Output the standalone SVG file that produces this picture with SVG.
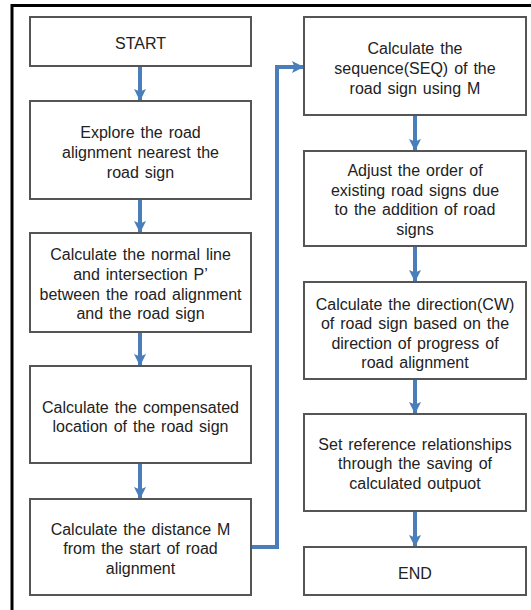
<svg xmlns="http://www.w3.org/2000/svg" width="531" height="610" viewBox="0 0 531 610">
  <style>
    .box { fill: #ffffff; stroke: #555555; stroke-width: 2; }
    .lbl { font-family: "Liberation Sans", Arial, sans-serif; font-size: 16px; word-spacing: 1.5px; fill: #222222; text-anchor: middle; }
    .flow { fill: none; stroke: #4a7ebb; stroke-width: 4; }
    .frame { fill: none; stroke: #000000; stroke-width: 3; }
  </style>
  <defs>
    <marker id="arrow" viewBox="0 0 12 12" refX="11" refY="6" markerWidth="12" markerHeight="12" markerUnits="userSpaceOnUse" orient="auto">
      <path d="M0,0 L12,6 L0,12 L2.5,6 Z" fill="#4a7ebb"/>
    </marker>
  </defs>
  <rect width="531" height="610" fill="#ffffff"/>
  <!-- outer frame: top and left edges only -->
  <path class="frame" d="M12,610 L12,5.5 L531,5.5"/>

  <g id="connectors">
    <path class="flow" d="M140,66 L140,100" marker-end="url(#arrow)"/>
    <path class="flow" d="M140,199 L140,232" marker-end="url(#arrow)"/>
    <path class="flow" d="M140,332 L140,365" marker-end="url(#arrow)"/>
    <path class="flow" d="M140,463 L140,498" marker-end="url(#arrow)"/>
    <path class="flow" d="M251,547 L277,547 L277,67 L303,67" marker-end="url(#arrow)"/>
    <path class="flow" d="M415,115 L415,150" marker-end="url(#arrow)"/>
    <path class="flow" d="M415,246 L415,281" marker-end="url(#arrow)"/>
    <path class="flow" d="M415,379 L415,413" marker-end="url(#arrow)"/>
    <path class="flow" d="M415,511 L415,546" marker-end="url(#arrow)"/>
  </g>

  <g id="start">
    <rect class="box" x="30" y="17" width="221" height="49"/>
    <text class="lbl" x="140.5" y="49">START</text>
  </g>
  <g id="explore">
    <rect class="box" x="30" y="101" width="221" height="98"/>
    <text class="lbl" x="140.5" y="138">Explore the road</text>
    <text class="lbl" x="140.5" y="158">alignment nearest the</text>
    <text class="lbl" x="140.5" y="178">road sign</text>
  </g>
  <g id="normal-line">
    <rect class="box" x="30" y="233" width="221" height="99"/>
    <text class="lbl" x="140.5" y="260">Calculate the normal line</text>
    <text class="lbl" x="140.5" y="280">and intersection P’</text>
    <text class="lbl" x="140.5" y="300">between the road alignment</text>
    <text class="lbl" x="140.5" y="319">and the road sign</text>
  </g>
  <g id="compensated">
    <rect class="box" x="30" y="366" width="221" height="97"/>
    <text class="lbl" x="140.5" y="413">Calculate the compensated</text>
    <text class="lbl" x="140.5" y="432">location of the road sign</text>
  </g>
  <g id="distance">
    <rect class="box" x="30" y="499" width="221" height="96"/>
    <text class="lbl" x="140.5" y="535">Calculate the distance M</text>
    <text class="lbl" x="140.5" y="554">from the start of road</text>
    <text class="lbl" x="140.5" y="574">alignment</text>
  </g>

  <g id="sequence">
    <rect class="box" x="304" y="17" width="222" height="98"/>
    <text class="lbl" x="415" y="54">Calculate the</text>
    <text class="lbl" x="415" y="74">sequence(SEQ) of the</text>
    <text class="lbl" x="415" y="94">road sign using M</text>
  </g>
  <g id="adjust">
    <rect class="box" x="304" y="151" width="222" height="95"/>
    <text class="lbl" x="415" y="176">Adjust the order of</text>
    <text class="lbl" x="415" y="196">existing road signs due</text>
    <text class="lbl" x="415" y="215">to the addition of road</text>
    <text class="lbl" x="415" y="235">signs</text>
  </g>
  <g id="direction">
    <rect class="box" x="304" y="282" width="222" height="97"/>
    <text class="lbl" x="415" y="310">Calculate the direction(CW)</text>
    <text class="lbl" x="415" y="329">of road sign based on the</text>
    <text class="lbl" x="415" y="349">direction of progress of</text>
    <text class="lbl" x="415" y="368">road alignment</text>
  </g>
  <g id="save">
    <rect class="box" x="304" y="414" width="222" height="97"/>
    <text class="lbl" x="415" y="450">Set reference relationships</text>
    <text class="lbl" x="415" y="469">through the saving of</text>
    <text class="lbl" x="415" y="489">calculated outpuot</text>
  </g>
  <g id="end">
    <rect class="box" x="304" y="547" width="222" height="48"/>
    <text class="lbl" x="415" y="579">END</text>
  </g>
</svg>
